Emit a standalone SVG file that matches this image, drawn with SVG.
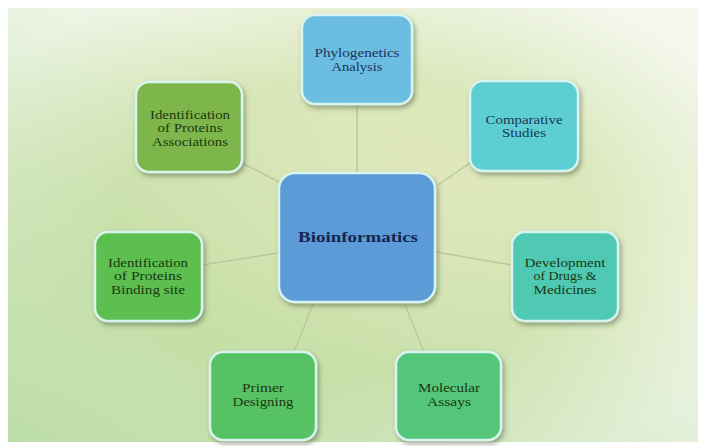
<svg xmlns="http://www.w3.org/2000/svg" width="704" height="446" viewBox="0 0 704 446">
<defs>
<radialGradient id="bg" cx="50%" cy="50%" r="62%">
<stop offset="0" stop-color="#e5eac0"/>
<stop offset="0.55" stop-color="#dbe7bb"/>
<stop offset="1" stop-color="#f3f7ec"/>
</radialGradient>
<linearGradient id="bl" x1="0" y1="1" x2="0.6" y2="0.3">
<stop offset="0" stop-color="#a9d48e" stop-opacity="0.75"/>
<stop offset="1" stop-color="#a9d48e" stop-opacity="0"/>
</linearGradient>
<filter id="sh" x="-20%" y="-20%" width="140%" height="140%">
<feDropShadow dx="2" dy="3" stdDeviation="2.5" flood-color="#3a4a2a" flood-opacity="0.45"/>
</filter>
</defs>
<style>
.box{stroke:#d8f4ee;stroke-width:2.5;filter:url(#sh)}
.t{font-family:"Liberation Serif","Times New Roman",serif;font-size:12px;text-anchor:middle}
.tb{fill:#1a3656}
.tg{fill:#1a3810}
.conn line{stroke:#b9c99f;stroke-width:1.5}
</style>
<rect width="704" height="446" fill="#ffffff"/>
<rect x="8" y="8" width="690" height="434" fill="url(#bg)"/>
<rect x="8" y="8" width="690" height="434" fill="url(#bl)"/>
<g class="conn">
<line x1="357" y1="104" x2="357" y2="173"/>
<line x1="438" y1="185" x2="470" y2="163"/>
<line x1="242" y1="163" x2="279" y2="182"/>
<line x1="202" y1="265" x2="278" y2="253"/>
<line x1="436" y1="252" x2="512" y2="265"/>
<line x1="314" y1="302" x2="294" y2="352"/>
<line x1="404" y1="302" x2="424" y2="352"/>
</g>
<g id="phylogenetics">
<rect class="box" x="302" y="15" width="110" height="89" rx="13" fill="#6cbde2"/>
<text class="t tb" x="357" y="57" textLength="85" lengthAdjust="spacingAndGlyphs">Phylogenetics</text>
<text class="t tb" x="357" y="71" textLength="51" lengthAdjust="spacingAndGlyphs">Analysis</text>
</g>
<g id="comparative">
<rect class="box" x="470" y="81" width="108" height="90" rx="13" fill="#5dcfd2"/>
<text class="t tb" x="524" y="124" textLength="77" lengthAdjust="spacingAndGlyphs">Comparative</text>
<text class="t tb" x="524" y="137" textLength="44" lengthAdjust="spacingAndGlyphs">Studies</text>
</g>
<g id="associations">
<rect class="box" x="136" y="82" width="106" height="90" rx="13" fill="#7db64b"/>
<text class="t tg" x="190" y="119" textLength="80" lengthAdjust="spacingAndGlyphs">Identification</text>
<text class="t tg" x="190" y="132" textLength="65" lengthAdjust="spacingAndGlyphs">of Proteins</text>
<text class="t tg" x="190" y="146" textLength="76" lengthAdjust="spacingAndGlyphs">Associations</text>
</g>
<g id="bioinformatics">
<rect class="box" x="279" y="173" width="156" height="129" rx="16" fill="#5b9bd8"/>
<text x="358" y="242" font-family="Liberation Serif,Times New Roman,serif" font-size="14" font-weight="bold" text-anchor="middle" fill="#16264f" textLength="120" lengthAdjust="spacingAndGlyphs">Bioinformatics</text>
</g>
<g id="binding">
<rect class="box" x="95" y="232" width="107" height="89" rx="13" fill="#5dbf50"/>
<text class="t tg" x="148" y="267" textLength="80" lengthAdjust="spacingAndGlyphs">Identification</text>
<text class="t tg" x="148" y="280" textLength="68" lengthAdjust="spacingAndGlyphs">of Proteins</text>
<text class="t tg" x="148" y="294" textLength="74" lengthAdjust="spacingAndGlyphs">Binding site</text>
</g>
<g id="development">
<rect class="box" x="512" y="232" width="106" height="89" rx="13" fill="#4fc9b3"/>
<text class="t tg" x="565" y="267" textLength="81" lengthAdjust="spacingAndGlyphs">Development</text>
<text class="t tg" x="565" y="280" textLength="63" lengthAdjust="spacingAndGlyphs">of Drugs &amp;</text>
<text class="t tg" x="565" y="294" textLength="63" lengthAdjust="spacingAndGlyphs">Medicines</text>
</g>
<g id="primer">
<rect class="box" x="210" y="352" width="106" height="88" rx="13" fill="#56c264"/>
<text class="t tg" x="263" y="392" textLength="42" lengthAdjust="spacingAndGlyphs">Primer</text>
<text class="t tg" x="263" y="406" textLength="61" lengthAdjust="spacingAndGlyphs">Designing</text>
</g>
<g id="molecular">
<rect class="box" x="396" y="352" width="105" height="88" rx="13" fill="#52c67a"/>
<text class="t tg" x="449" y="392" textLength="62" lengthAdjust="spacingAndGlyphs">Molecular</text>
<text class="t tg" x="449" y="406" textLength="44" lengthAdjust="spacingAndGlyphs">Assays</text>
</g>
</svg>
